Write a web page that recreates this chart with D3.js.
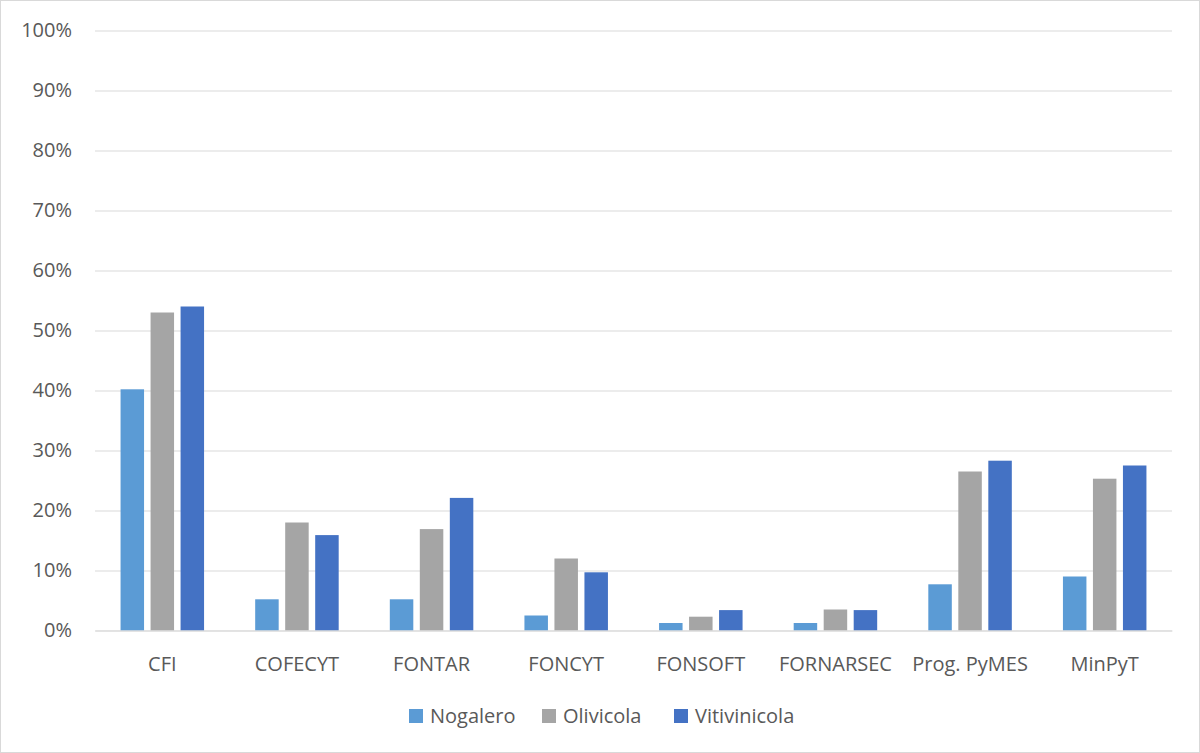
<!DOCTYPE html>
<html><head><meta charset="utf-8">
<script src="https://cdn.jsdelivr.net/npm/d3@7"></script>
<style>
body{margin:0;background:#fff;}
text{font-family:"Open Sans","Noto Sans",sans-serif;fill:#595959;}
</style></head>
<body><svg id="c" width="1200" height="753"></svg>
<script>
const categories = ["CFI","COFECYT","FONTAR","FONCYT","FONSOFT","FORNARSEC","Prog. PyMES","MinPyT"];
const seriesNames = ["Nogalero","Olivicola","Vitivinicola"];
const nogalero = [40.2, 5.2, 5.2, 2.5, 1.25, 1.25, 7.7, 9.0];
const olivicola = [53.0, 18.0, 16.9, 12.0, 2.3, 3.5, 26.5, 25.3];
const vitivinicola = [54.0, 15.9, 22.1, 9.7, 3.4, 3.4, 28.3, 27.5];
const yTicks = [0,10,20,30,40,50,60,70,80,90,100];
const colors = ["#5b9bd5","#a5a5a5","#4472c4"];

(function(){
const svg = d3.select("#c");
svg.append("rect").attr("x",0.5).attr("y",0.5).attr("width",1199).attr("height",752)
  .attr("fill","#fff").attr("stroke","#d9d9d9");

const pl=95, pr=1172, pt=30.5, pb=630.5;
const x = d3.scaleBand().domain(categories).range([pl,pr]);
const y = d3.scaleLinear().domain([0,100]).range([pb,pt]);
const inner = d3.scaleBand().domain(seriesNames).range([-41.75,41.75]).paddingInner(0.217);

const data = [nogalero, olivicola, vitivinicola];

const yAxis = d3.axisLeft(y).tickValues(yTicks).tickSize(-(pr-pl)).tickFormat(d=>d+"%");
const ga = svg.append("g").attr("transform",`translate(${pl},0)`).call(yAxis);
ga.select(".domain").remove();
ga.selectAll(".tick line").attr("stroke","#d9d9d9").attr("stroke-width",1);
ga.selectAll(".tick text").attr("x",-23).attr("font-size","20px").attr("fill","#595959");

const groups = svg.append("g").selectAll("g").data(seriesNames).join("g");
groups.each(function(s,si){
  d3.select(this).selectAll("rect").data(categories).join("rect")
    .attr("x",c=>x(c)+x.bandwidth()/2+inner(s))
    .attr("width",inner.bandwidth())
    .attr("y",(c,i)=>y(data[si][i]))
    .attr("height",(c,i)=>pb-y(data[si][i]))
    .attr("fill",colors[si]);
});

const xa = svg.append("g").attr("transform",`translate(0,${pb})`).call(d3.axisBottom(x).tickSize(0));
xa.select(".domain").attr("stroke","#d9d9d9").attr("stroke-width",1);
xa.selectAll(".tick text").attr("dy","0").attr("y",40).attr("font-size","20px").attr("fill","#595959");

const legX = [409, 542, 674];
const lg = svg.append("g");
seriesNames.forEach((s,i)=>{
  lg.append("rect").attr("x",legX[i]).attr("y",709).attr("width",14).attr("height",14).attr("fill",colors[i]);
  lg.append("text").attr("x",legX[i]+21).attr("y",723).attr("font-size","20px").text(s);
});
})();
</script></body></html>
